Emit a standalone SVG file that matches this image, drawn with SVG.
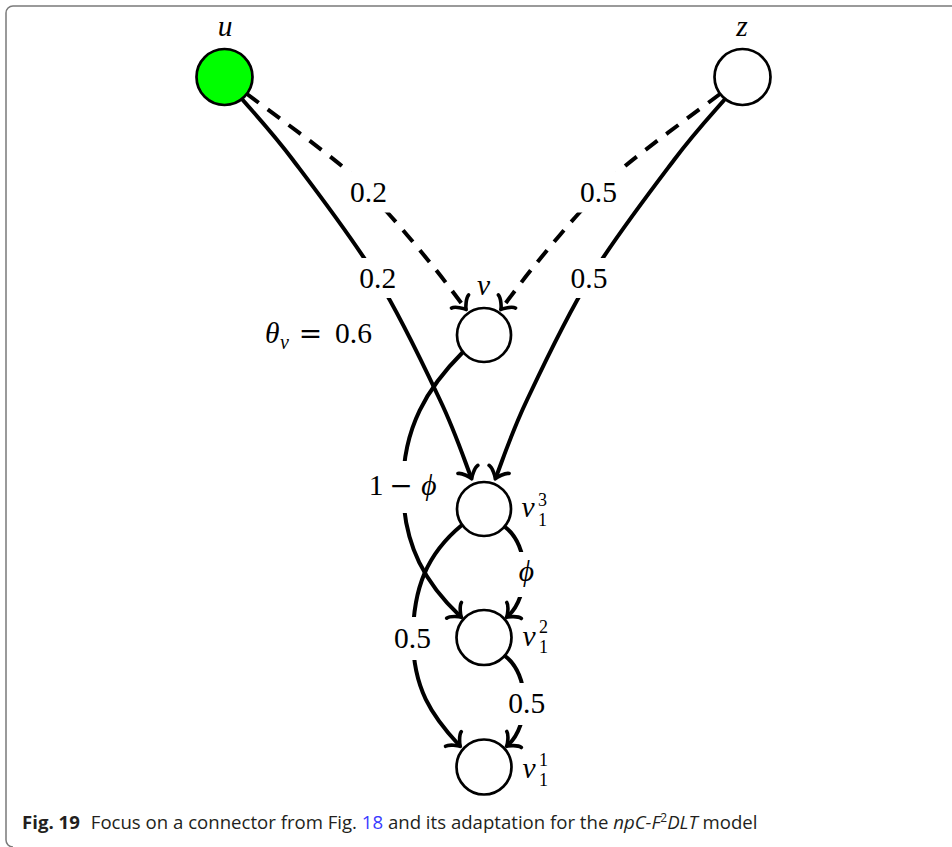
<svg xmlns="http://www.w3.org/2000/svg" width="952" height="847" viewBox="0 0 952 847">
  <style>
    .node { fill: #fff; stroke: #000; stroke-width: 2.7; }
    .edge { fill: none; stroke: #000; stroke-width: 4; marker-end: url(#to); }
    .dash { stroke-dasharray: 15 11; }
    .lbl-bg { fill: #fff; stroke: none; }
    .m { font-family: "Liberation Serif", "DejaVu Serif", serif; font-size: 29.5px; fill: #000; }
    .op { font-family: "DejaVu Serif", "Liberation Serif", serif; font-size: 28px; }
    .i { font-style: italic; }
    .s { font-size: 20px; }
    .t { font-size: 18px; }
    .cap { font-family: "Open Sans", "Noto Sans", sans-serif; font-size: 18.6px; fill: #231f20; }
  </style>
  <defs>
    <marker id="to" markerUnits="userSpaceOnUse" orient="auto" refX="0" refY="0" markerWidth="20" markerHeight="30" overflow="visible">
      <path d="M-8.2,-10.8 C-7.5,-6.8 0,-0.7 2,0 C0,0.7 -7.5,6.8 -8.2,10.8" fill="none" stroke="#000" stroke-width="3.6" stroke-linecap="round" stroke-linejoin="round" stroke-dasharray="none"/>
    </marker>
  </defs>

  <!-- frame -->
  <path d="M952,6 H13 A7,7 0 0 0 6,13 V840 A7,7 0 0 0 13,847" fill="none" stroke="#7a7a7a" stroke-width="1.5"/>

  <!-- connectors -->
  <g id="connectors">
    <!-- u -> v (dashed) -->
    <path class="edge dash" d="M247,94 C263,106.2 319.7,147.3 343,167 C366.3,186.7 372.2,195.7 387,212 C401.8,228.3 419,249 432,265 C445,281 459.5,300.8 465,308"/>
    <!-- z -> v (dashed) -->
    <path class="edge dash" d="M720,94 C704,106.2 647.3,147.3 624,167 C600.7,186.7 594.8,195.7 580,212 C565.2,228.3 548,249 535,265 C522,281 507.5,300.8 502,308"/>
    <!-- u -> v1^3 -->
    <path class="edge" d="M242,99 C250.5,109.2 270.5,130.2 293,160 C315.5,189.8 352.5,238 377,278 C401.5,318 424.3,366.8 440,400 C455.7,432.8 465.8,464.2 471,477"/>
    <!-- z -> v1^3 -->
    <path class="edge" d="M725,99 C716.5,109.2 696.5,130.2 674,160 C651.5,189.8 614.5,238 590,278 C565.5,318 542.7,366.8 527,400 C511.3,432.8 501.2,464.2 496,477"/>
    <!-- v -> v1^2 -->
    <path class="edge" d="M463,352 C427.6,387.4 403,427 403,487 C403,547 427.2,585 460,616"/>
    <!-- v1^3 -> v1^1 -->
    <path class="edge" d="M462,525 C427.4,553.4 413,588 413,638 C413,688 431.8,715.8 459,745"/>
    <!-- v1^3 -> v1^2 -->
    <path class="edge" d="M505,527 C530,546 530,596 508,616"/>
    <!-- v1^2 -> v1^1 -->
    <path class="edge" d="M505,656 C530,675 530,725 508,745"/>

    <!-- edge labels -->
    <rect class="lbl-bg" x="340.5" y="171.5" width="56" height="41"/>
    <text class="m" x="368.5" y="201.5" text-anchor="middle">0.2</text>
    <rect class="lbl-bg" x="570.5" y="171.5" width="56" height="41"/>
    <text class="m" x="598.5" y="201.5" text-anchor="middle">0.5</text>
    <rect class="lbl-bg" x="349.7" y="258" width="56" height="40"/>
    <text class="m" x="377.7" y="288" text-anchor="middle">0.2</text>
    <rect class="lbl-bg" x="561" y="258" width="56" height="40"/>
    <text class="m" x="589" y="288" text-anchor="middle">0.5</text>
    <rect class="lbl-bg" x="363" y="461" width="80" height="52"/>
    <text class="m" y="495" text-anchor="middle"><tspan x="376">1</tspan><tspan x="401" class="op">−</tspan><tspan x="429" class="i">ϕ</tspan></text>
    <rect class="lbl-bg" x="509" y="552" width="34" height="45"/>
    <text class="m i" x="526.5" y="581" text-anchor="middle">ϕ</text>
    <rect class="lbl-bg" x="386" y="617" width="54" height="43"/>
    <text class="m" x="412.5" y="648" text-anchor="middle">0.5</text>
    <rect class="lbl-bg" x="500" y="683" width="54" height="42"/>
    <text class="m" x="526.7" y="713" text-anchor="middle">0.5</text>
  </g>

  <!-- nodes -->
  <g id="node-u">
    <circle class="node" cx="224.5" cy="77" r="28" style="fill:#00ff00"/>
    <text class="m i" x="225" y="36" text-anchor="middle">u</text>
  </g>
  <g id="node-z">
    <circle class="node" cx="742.5" cy="77" r="28"/>
    <text class="m i" x="742" y="36" text-anchor="middle">z</text>
  </g>
  <g id="node-v">
    <circle class="node" cx="484" cy="335" r="27"/>
    <text class="m i" x="483.5" y="295" text-anchor="middle">v</text>
    <text class="m"><tspan x="265" y="343" class="i">θ</tspan><tspan x="280" y="349" class="i s">v</tspan><tspan x="310.5" y="343" text-anchor="middle" class="op">=</tspan><tspan x="353.5" y="343" text-anchor="middle">0.6</tspan></text>
  </g>
  <g id="node-v13">
    <circle class="node" cx="484" cy="509" r="27"/>
    <text class="m"><tspan x="521.5" y="517" class="i">v</tspan><tspan x="538" y="506" class="t">3</tspan><tspan x="538" y="526" class="t">1</tspan></text>
  </g>
  <g id="node-v12">
    <circle class="node" cx="484" cy="637.5" r="27.5"/>
    <text class="m"><tspan x="522.5" y="646" class="i">v</tspan><tspan x="539" y="633" class="t">2</tspan><tspan x="539" y="653" class="t">1</tspan></text>
  </g>
  <g id="node-v11">
    <circle class="node" cx="484" cy="767" r="27.5"/>
    <text class="m"><tspan x="522.5" y="778" class="i">v</tspan><tspan x="539" y="766" class="t">1</tspan><tspan x="539" y="786" class="t">1</tspan></text>
  </g>

  <!-- caption -->
  <text class="cap" x="22" y="829"><tspan font-weight="bold">Fig. 19</tspan><tspan dx="11">Focus on a connector from Fig. </tspan><tspan fill="#3a3aff">18</tspan><tspan> and its adaptation for the </tspan><tspan font-style="italic">npC-F</tspan><tspan font-size="12" dy="-7">2</tspan><tspan font-style="italic" dy="7">DLT</tspan><tspan> model</tspan></text>
</svg>
